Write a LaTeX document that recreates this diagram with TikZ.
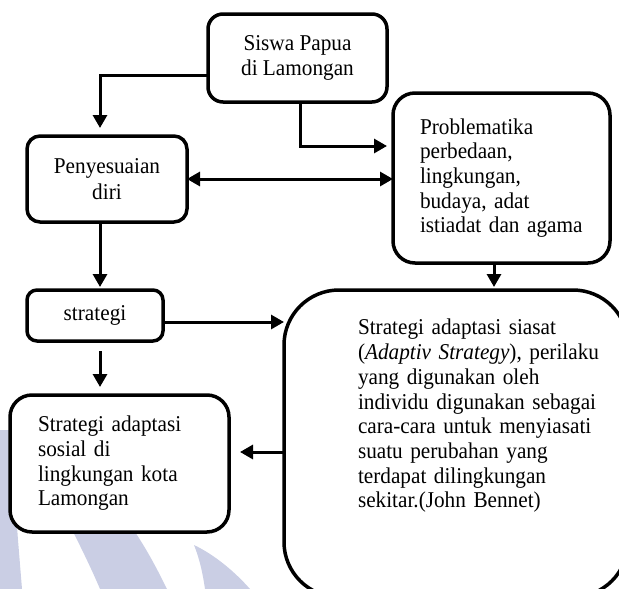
\documentclass[tikz,border=0pt]{standalone}
\usepackage{fontspec}
\setmainfont{Liberation Serif}[FakeStretch=0.94]
\usetikzlibrary{arrows.meta}
\definecolor{wm}{RGB}{202,206,228}
\newcommand\dfont{\fontsize{22.6}{24.7}\selectfont}
\begin{document}
\begin{tikzpicture}[x=1pt,y=-1pt,
  box/.style={draw, line width=3.5pt, fill=white, inner sep=0pt, outer sep=0pt, font=\dfont},
  arr/.style={line width=3pt, -{Triangle[length=13pt,width=14pt]}},
  darr/.style={line width=3pt, {Triangle[length=13pt,width=14pt]}-{Triangle[length=13pt,width=14pt]}},
  wmark/.style={fill=wm, draw=none}]
\useasboundingbox (0,0) rectangle (619,589);
\clip (0,0) rectangle (619,589);
% watermark
\path[wmark] (0,430) -- (10,430) -- (18,540) -- (22,589) -- (0,589) -- cycle;
\path[wmark] (62,510) .. controls (80,545) and (92,570) .. (100,589) -- (167,589) .. controls (155,565) and (145,545) .. (120,510) -- cycle;
\path[wmark] (194,545) .. controls (200,560) and (203,575) .. (205,589) -- (250,589) .. controls (235,572) and (215,555) .. (194,545) -- cycle;
% boxes
\node[box, rounded corners=15pt, minimum width=179pt, minimum height=88pt, align=center] (siswa) at (297.5,58) {Siswa Papua\\di Lamongan};
\node[box, rounded corners=13pt, minimum width=160pt, minimum height=86pt, align=center] (peny) at (107,179) {Penyesuaian\\[2pt]diri};
\node[box, rounded corners=22pt, minimum width=217pt, minimum height=170pt, text width=163pt, align=left] (prob) at (501.5,178) {Problematika\\perbedaan,\\lingkungan,\\budaya, adat\\istiadat dan agama};
\node[box, rounded corners=10pt, minimum width=136pt, minimum height=51pt] (strat) at (95,315.5) {strategi};
\node[box, rounded corners=55pt, minimum width=344pt, minimum height=307pt] (big) at (456,443.5) {};
\node[font=\dfont, text width=238pt, inner sep=0pt, align=left] (bigtxt) at (477,416) {%
\makebox[238pt][s]{Strategi adaptasi siasat}\\
\makebox[238pt][s]{(\textit{Adaptiv Strategy}), perilaku}\\
\makebox[238pt][s]{yang digunakan oleh}\\
\makebox[238pt][s]{individu digunakan sebagai}\\
\makebox[238pt][s]{cara-cara untuk menyiasati}\\
\makebox[238pt][s]{suatu perubahan yang}\\
\makebox[238pt][s]{terdapat dilingkungan}\\
sekitar.(John Bennet)};
\node[box, rounded corners=22pt, minimum width=219pt, minimum height=137pt, text width=163pt, align=left] (bl) at (119.5,463.5) {Strategi adaptasi\\sosial di\\lingkungan kota\\Lamongan};
% connectors
\draw[arr] ([yshift=-17pt]siswa.west) -| ([xshift=-7pt,yshift=8pt]peny.north);
\draw[arr] ([xshift=2.5pt]siswa.south) |- ([xshift=-6pt,yshift=32pt]prob.west);
\draw[darr] (peny.east) -- (peny.east -| prob.west);
\draw[arr, shorten >=3pt] ([xshift=-7pt]peny.south) -- ([xshift=-7pt]peny.south |- strat.north);
\draw[arr, shorten >=3pt] ([xshift=-7.5pt]prob.south) -- ([xshift=-7.5pt]prob.south |- big.north);
\draw[arr] ([yshift=-6.5pt]strat.east) -- ([yshift=-6.5pt]strat.east -| big.west);
\draw[arr, shorten <=10pt, shorten >=8pt] ([xshift=5pt]strat.south) -- ([xshift=5pt]strat.south |- bl.north);
\draw[arr, shorten >=11pt] ([yshift=-8.5pt]big.west) -- ([yshift=-8.5pt]big.west -| bl.east);
\end{tikzpicture}
\end{document}
